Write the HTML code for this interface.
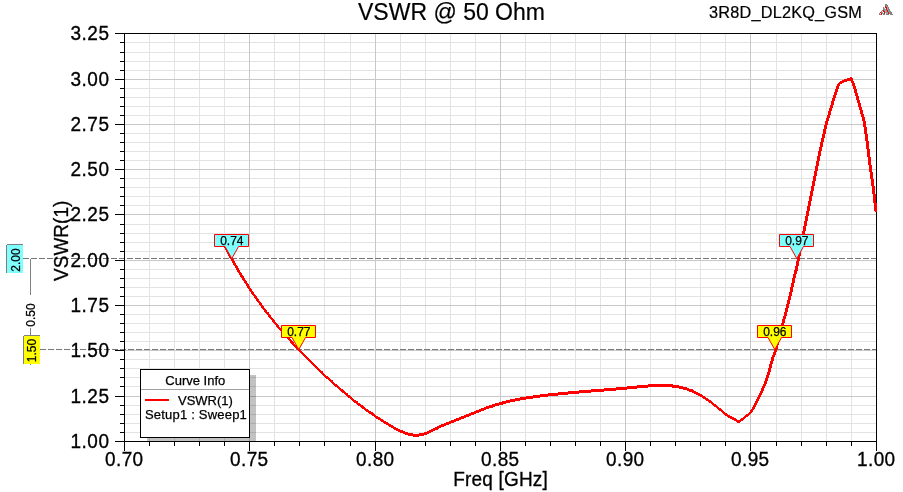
<!DOCTYPE html>
<html><head><meta charset="utf-8"><title>VSWR @ 50 Ohm</title>
<style>html,body{margin:0;padding:0;background:#fff;overflow:hidden}body{width:903px;height:492px;position:relative}</style>
</head><body>
<svg width="903" height="492" viewBox="0 0 903 492" style="position:absolute;left:0;top:0" font-family='"Liberation Sans", Arial, sans-serif' fill="#000"><rect x="0" y="0" width="903" height="492" fill="#ffffff"/><path d="M125 42.5H876M125 52.5H876M125 61.5H876M125 70.5H876M125 88.5H876M125 97.5H876M125 106.5H876M125 115.5H876M125 133.5H876M125 142.5H876M125 151.5H876M125 160.5H876M125 178.5H876M125 187.5H876M125 196.5H876M125 205.5H876M125 224.5H876M125 233.5H876M125 242.5H876M125 251.5H876M125 269.5H876M125 278.5H876M125 287.5H876M125 296.5H876M125 314.5H876M125 323.5H876M125 332.5H876M125 341.5H876M125 359.5H876M125 368.5H876M125 377.5H876M125 386.5H876M125 405.5H876M125 414.5H876M125 423.5H876M125 432.5H876M149.5 34V441M174.5 34V441M199.5 34V441M224.5 34V441M274.5 34V441M299.5 34V441M324.5 34V441M350.5 34V441M400.5 34V441M425.5 34V441M450.5 34V441M475.5 34V441M525.5 34V441M550.5 34V441M575.5 34V441M600.5 34V441M650.5 34V441M675.5 34V441M700.5 34V441M725.5 34V441M776.5 34V441M801.5 34V441M826.5 34V441M851.5 34V441" stroke="#e3e3e3" stroke-width="1" fill="none" shape-rendering="crispEdges"/><path d="M125 79.5H876M125 124.5H876M125 169.5H876M125 214.5H876M125 260.5H876M125 305.5H876M125 350.5H876M125 396.5H876M249.5 34V441M375.5 34V441M500.5 34V441M625.5 34V441M750.5 34V441" stroke="#c8c8c8" stroke-width="1" fill="none" shape-rendering="crispEdges"/><path d="M23 258.5H876M40 349.5H876" stroke="#767676" stroke-width="1" stroke-dasharray="6 2" fill="none" shape-rendering="crispEdges"/><path d="M115 33.5H876.5M876.5 33V441M124.5 33V451M115 441.5H877M115 79.5H124M115 124.5H124M115 169.5H124M115 214.5H124M115 260.5H124M115 305.5H124M115 350.5H124M115 396.5H124M120 42.5H124M120 52.5H124M120 61.5H124M120 70.5H124M120 88.5H124M120 97.5H124M120 106.5H124M120 115.5H124M120 133.5H124M120 142.5H124M120 151.5H124M120 160.5H124M120 178.5H124M120 187.5H124M120 196.5H124M120 205.5H124M120 224.5H124M120 233.5H124M120 242.5H124M120 251.5H124M120 269.5H124M120 278.5H124M120 287.5H124M120 296.5H124M120 314.5H124M120 323.5H124M120 332.5H124M120 341.5H124M120 359.5H124M120 368.5H124M120 377.5H124M120 386.5H124M120 405.5H124M120 414.5H124M120 423.5H124M120 432.5H124M249.5 442V451M375.5 442V451M500.5 442V451M625.5 442V451M750.5 442V451M876.5 442V451M149.5 442V446M174.5 442V446M199.5 442V446M224.5 442V446M274.5 442V446M299.5 442V446M324.5 442V446M350.5 442V446M400.5 442V446M425.5 442V446M450.5 442V446M475.5 442V446M525.5 442V446M550.5 442V446M575.5 442V446M600.5 442V446M650.5 442V446M675.5 442V446M700.5 442V446M725.5 442V446M776.5 442V446M801.5 442V446M826.5 442V446M851.5 442V446" stroke="#000" stroke-width="1" fill="none" shape-rendering="crispEdges"/><text transform="translate(109,40) scale(1,1.06)" font-size="19" text-anchor="end" textLength="38.6" lengthAdjust="spacing" stroke="#000" stroke-width="0.3">3.25</text><text transform="translate(109,86) scale(1,1.06)" font-size="19" text-anchor="end" textLength="38.6" lengthAdjust="spacing" stroke="#000" stroke-width="0.3">3.00</text><text transform="translate(109,131) scale(1,1.06)" font-size="19" text-anchor="end" textLength="38.6" lengthAdjust="spacing" stroke="#000" stroke-width="0.3">2.75</text><text transform="translate(109,176) scale(1,1.06)" font-size="19" text-anchor="end" textLength="38.6" lengthAdjust="spacing" stroke="#000" stroke-width="0.3">2.50</text><text transform="translate(109,221) scale(1,1.06)" font-size="19" text-anchor="end" textLength="38.6" lengthAdjust="spacing" stroke="#000" stroke-width="0.3">2.25</text><text transform="translate(109,267) scale(1,1.06)" font-size="19" text-anchor="end" textLength="38.6" lengthAdjust="spacing" stroke="#000" stroke-width="0.3">2.00</text><text transform="translate(109,312) scale(1,1.06)" font-size="19" text-anchor="end" textLength="38.6" lengthAdjust="spacing" stroke="#000" stroke-width="0.3">1.75</text><text transform="translate(109,357) scale(1,1.06)" font-size="19" text-anchor="end" textLength="38.6" lengthAdjust="spacing" stroke="#000" stroke-width="0.3">1.50</text><text transform="translate(109,403) scale(1,1.06)" font-size="19" text-anchor="end" textLength="38.6" lengthAdjust="spacing" stroke="#000" stroke-width="0.3">1.25</text><text transform="translate(109,448) scale(1,1.06)" font-size="19" text-anchor="end" textLength="38.6" lengthAdjust="spacing" stroke="#000" stroke-width="0.3">1.00</text><text transform="translate(124.1,466) scale(1,1.06)" font-size="19" text-anchor="middle" textLength="38.0" lengthAdjust="spacing" stroke="#000" stroke-width="0.3">0.70</text><text transform="translate(249.1,466) scale(1,1.06)" font-size="19" text-anchor="middle" textLength="38.0" lengthAdjust="spacing" stroke="#000" stroke-width="0.3">0.75</text><text transform="translate(375.1,466) scale(1,1.06)" font-size="19" text-anchor="middle" textLength="38.0" lengthAdjust="spacing" stroke="#000" stroke-width="0.3">0.80</text><text transform="translate(500.1,466) scale(1,1.06)" font-size="19" text-anchor="middle" textLength="38.0" lengthAdjust="spacing" stroke="#000" stroke-width="0.3">0.85</text><text transform="translate(625.1,466) scale(1,1.06)" font-size="19" text-anchor="middle" textLength="38.0" lengthAdjust="spacing" stroke="#000" stroke-width="0.3">0.90</text><text transform="translate(750.1,466) scale(1,1.06)" font-size="19" text-anchor="middle" textLength="38.0" lengthAdjust="spacing" stroke="#000" stroke-width="0.3">0.95</text><text transform="translate(876.1,466) scale(1,1.06)" font-size="19" text-anchor="middle" textLength="38.0" lengthAdjust="spacing" stroke="#000" stroke-width="0.3">1.00</text><text transform="translate(500.5,486) scale(1,1.06)" font-size="19" text-anchor="middle" textLength="94.6" lengthAdjust="spacing" stroke="#000" stroke-width="0.3">Freq [GHz]</text><text transform="translate(67.8,240.8) rotate(-90) scale(1,1.06)" font-size="19" text-anchor="middle" stroke="#000" stroke-width="0.3">VSWR(1)</text><text transform="translate(358,20)" font-size="23" stroke="#000" stroke-width="0.2">VSWR @ 50 Ohm</text><text transform="translate(709,18)" font-size="16.3" textLength="152.8" lengthAdjust="spacing" stroke="#000" stroke-width="0.2">3R8D_DL2KQ_GSM</text><g fill="#808484" shape-rendering="crispEdges"><rect x="885" y="4" width="1" height="1"/><rect x="886" y="4" width="1" height="1"/><rect x="885" y="5" width="1" height="1"/><rect x="886" y="5" width="1" height="1"/><rect x="887" y="5" width="1" height="1"/><rect x="887" y="6" width="1" height="1"/><rect x="883" y="7" width="1" height="1"/><rect x="888" y="7" width="1" height="1"/><rect x="883" y="8" width="1" height="1"/><rect x="888" y="8" width="1" height="1"/><rect x="883" y="9" width="1" height="1"/><rect x="888" y="9" width="1" height="1"/><rect x="889" y="9" width="1" height="1"/><rect x="882" y="10" width="1" height="1"/><rect x="886" y="10" width="1" height="1"/><rect x="889" y="10" width="1" height="1"/><rect x="881" y="11" width="1" height="1"/><rect x="889" y="11" width="1" height="1"/><rect x="890" y="11" width="1" height="1"/><rect x="881" y="12" width="1" height="1"/><rect x="890" y="12" width="1" height="1"/><rect x="891" y="12" width="1" height="1"/><rect x="879" y="13" width="1" height="1"/><rect x="889" y="13" width="1" height="1"/><rect x="890" y="13" width="1" height="1"/><rect x="891" y="13" width="1" height="1"/><rect x="879" y="14" width="1" height="1"/><rect x="880" y="14" width="1" height="1"/><rect x="883" y="14" width="1" height="1"/><rect x="884" y="14" width="1" height="1"/><rect x="886" y="14" width="1" height="1"/><rect x="887" y="14" width="1" height="1"/><rect x="888" y="14" width="1" height="1"/><rect x="890" y="14" width="1" height="1"/><rect x="891" y="14" width="1" height="1"/><rect x="892" y="14" width="1" height="1"/></g><g fill="#8aa6a6" shape-rendering="crispEdges"><rect x="886" y="6" width="1" height="1"/><rect x="887" y="7" width="1" height="1"/><rect x="884" y="8" width="1" height="1"/><rect x="887" y="8" width="1" height="1"/><rect x="884" y="9" width="1" height="1"/><rect x="885" y="9" width="1" height="1"/><rect x="887" y="9" width="1" height="1"/><rect x="884" y="10" width="1" height="1"/><rect x="885" y="10" width="1" height="1"/><rect x="888" y="10" width="1" height="1"/><rect x="885" y="11" width="1" height="1"/><rect x="886" y="11" width="1" height="1"/><rect x="888" y="11" width="1" height="1"/><rect x="882" y="12" width="1" height="1"/><rect x="885" y="12" width="1" height="1"/><rect x="886" y="12" width="1" height="1"/><rect x="887" y="12" width="1" height="1"/><rect x="889" y="12" width="1" height="1"/><rect x="882" y="13" width="1" height="1"/><rect x="883" y="13" width="1" height="1"/><rect x="886" y="13" width="1" height="1"/><rect x="887" y="13" width="1" height="1"/></g><g fill="#ff0000" shape-rendering="crispEdges"><rect x="885" y="6" width="1" height="1"/><rect x="885" y="7" width="1" height="1"/><rect x="886" y="7" width="1" height="1"/><rect x="886" y="8" width="1" height="1"/><rect x="886" y="9" width="1" height="1"/><rect x="883" y="10" width="1" height="1"/><rect x="887" y="10" width="1" height="1"/><rect x="883" y="11" width="1" height="1"/><rect x="884" y="11" width="1" height="1"/><rect x="887" y="11" width="1" height="1"/><rect x="880" y="12" width="1" height="1"/><rect x="884" y="12" width="1" height="1"/><rect x="888" y="12" width="1" height="1"/><rect x="881" y="13" width="1" height="1"/><rect x="884" y="13" width="1" height="1"/><rect x="888" y="13" width="1" height="1"/><rect x="881" y="14" width="1" height="1"/></g><rect x="7" y="245" width="16" height="28" fill="#80ffff"/><path d="M6.5 245V273M7 244.5H23" stroke="#808080" stroke-width="1" fill="none" shape-rendering="crispEdges"/><text transform="translate(19.5,260) rotate(-90)" font-size="12" text-anchor="middle" stroke="#000" stroke-width="0.25">2.00</text><rect x="24" y="336" width="16" height="28" fill="#ffff00"/><path d="M23.5 336V364M24 335.5H40" stroke="#808080" stroke-width="1" fill="none" shape-rendering="crispEdges"/><text transform="translate(35.5,350.5) rotate(-90)" font-size="12" text-anchor="middle" stroke="#000" stroke-width="0.25">1.50</text><path d="M30.5 259V295M30.5 328V335M30.5 364V365" stroke="#808080" stroke-width="1" fill="none" shape-rendering="crispEdges"/><text transform="translate(35,315) rotate(-90)" font-size="12" text-anchor="middle" stroke="#000" stroke-width="0.25">0.50</text><path d="M850 77h2v1h-2zM847 78h6v1h-6zM844 79h9v1h-9zM842 80h11v1h-11zM840 81h7v1h-7zM851 81h3v1h-3zM839 82h5v1h-5zM851 82h3v1h-3zM838 83h4v1h-4zM852 83h3v1h-3zM837 84h3v1h-3zM852 84h3v1h-3zM837 85h3v1h-3zM852 85h3v1h-3zM836 86h3v1h-3zM853 86h3v1h-3zM836 87h3v1h-3zM853 87h3v1h-3zM836 88h3v1h-3zM853 88h3v1h-3zM835 89h3v1h-3zM854 89h3v1h-3zM835 90h3v1h-3zM854 90h3v1h-3zM835 91h3v1h-3zM854 91h3v1h-3zM834 92h3v1h-3zM854 92h3v1h-3zM834 93h3v1h-3zM855 93h3v1h-3zM834 94h3v1h-3zM855 94h3v1h-3zM833 95h3v1h-3zM855 95h3v1h-3zM833 96h3v1h-3zM856 96h3v1h-3zM833 97h3v1h-3zM856 97h3v1h-3zM832 98h3v1h-3zM856 98h3v1h-3zM832 99h3v1h-3zM856 99h3v1h-3zM832 100h3v1h-3zM857 100h3v1h-3zM831 101h3v1h-3zM857 101h3v1h-3zM831 102h3v1h-3zM857 102h3v1h-3zM831 103h3v1h-3zM858 103h3v1h-3zM831 104h3v1h-3zM858 104h3v1h-3zM830 105h3v1h-3zM858 105h3v1h-3zM830 106h3v1h-3zM858 106h3v1h-3zM830 107h3v1h-3zM859 107h3v1h-3zM829 108h3v1h-3zM859 108h3v1h-3zM829 109h3v1h-3zM859 109h3v1h-3zM829 110h3v1h-3zM860 110h3v1h-3zM828 111h3v1h-3zM860 111h3v1h-3zM828 112h3v1h-3zM860 112h3v1h-3zM828 113h3v1h-3zM860 113h3v1h-3zM828 114h3v1h-3zM861 114h3v1h-3zM827 115h3v1h-3zM861 115h3v1h-3zM827 116h3v1h-3zM861 116h3v1h-3zM827 117h3v1h-3zM862 117h3v1h-3zM826 118h3v1h-3zM862 118h3v1h-3zM826 119h3v1h-3zM862 119h3v1h-3zM826 120h3v1h-3zM862 120h3v1h-3zM825 121h3v1h-3zM863 121h3v1h-3zM825 122h3v1h-3zM863 122h3v1h-3zM825 123h3v1h-3zM863 123h3v1h-3zM825 124h3v1h-3zM863 124h3v1h-3zM824 125h3v1h-3zM863 125h3v1h-3zM824 126h3v1h-3zM863 126h3v1h-3zM824 127h3v1h-3zM864 127h3v1h-3zM824 128h3v1h-3zM864 128h3v1h-3zM823 129h3v1h-3zM864 129h3v1h-3zM823 130h3v1h-3zM864 130h3v1h-3zM823 131h3v1h-3zM864 131h3v1h-3zM823 132h3v1h-3zM864 132h3v1h-3zM823 133h3v1h-3zM864 133h3v1h-3zM822 134h3v1h-3zM865 134h3v1h-3zM822 135h3v1h-3zM865 135h3v1h-3zM822 136h3v1h-3zM865 136h3v1h-3zM822 137h3v1h-3zM865 137h3v1h-3zM821 138h3v1h-3zM865 138h3v1h-3zM821 139h3v1h-3zM865 139h3v1h-3zM821 140h3v1h-3zM865 140h3v1h-3zM821 141h3v1h-3zM866 141h3v1h-3zM820 142h3v1h-3zM866 142h3v1h-3zM820 143h3v1h-3zM866 143h3v1h-3zM820 144h3v1h-3zM866 144h3v1h-3zM820 145h3v1h-3zM866 145h3v1h-3zM820 146h3v1h-3zM866 146h3v1h-3zM819 147h3v1h-3zM866 147h3v1h-3zM819 148h3v1h-3zM866 148h3v1h-3zM819 149h3v1h-3zM867 149h3v1h-3zM819 150h3v1h-3zM867 150h3v1h-3zM818 151h3v1h-3zM867 151h3v1h-3zM818 152h3v1h-3zM867 152h3v1h-3zM818 153h3v1h-3zM867 153h3v1h-3zM818 154h3v1h-3zM867 154h3v1h-3zM818 155h3v1h-3zM867 155h3v1h-3zM817 156h3v1h-3zM867 156h3v1h-3zM817 157h3v1h-3zM868 157h3v1h-3zM817 158h3v1h-3zM868 158h3v1h-3zM817 159h3v1h-3zM868 159h3v1h-3zM817 160h3v1h-3zM868 160h3v1h-3zM816 161h3v1h-3zM868 161h3v1h-3zM816 162h3v1h-3zM868 162h3v1h-3zM816 163h3v1h-3zM868 163h3v1h-3zM816 164h3v1h-3zM868 164h3v1h-3zM816 165h3v1h-3zM869 165h3v1h-3zM815 166h3v1h-3zM869 166h3v1h-3zM815 167h3v1h-3zM869 167h3v1h-3zM815 168h3v1h-3zM869 168h3v1h-3zM815 169h3v1h-3zM869 169h3v1h-3zM815 170h3v1h-3zM869 170h3v1h-3zM814 171h3v1h-3zM869 171h3v1h-3zM814 172h3v1h-3zM870 172h3v1h-3zM814 173h3v1h-3zM870 173h3v1h-3zM814 174h3v1h-3zM870 174h3v1h-3zM814 175h3v1h-3zM870 175h3v1h-3zM813 176h3v1h-3zM870 176h3v1h-3zM813 177h3v1h-3zM870 177h3v1h-3zM813 178h3v1h-3zM870 178h3v1h-3zM813 179h3v1h-3zM871 179h3v1h-3zM813 180h3v1h-3zM871 180h3v1h-3zM812 181h3v1h-3zM871 181h3v1h-3zM812 182h3v1h-3zM871 182h3v1h-3zM812 183h3v1h-3zM871 183h3v1h-3zM812 184h3v1h-3zM871 184h3v1h-3zM812 185h3v1h-3zM871 185h3v1h-3zM811 186h3v1h-3zM872 186h3v1h-3zM811 187h3v1h-3zM872 187h3v1h-3zM811 188h3v1h-3zM872 188h3v1h-3zM811 189h3v1h-3zM872 189h3v1h-3zM811 190h3v1h-3zM872 190h3v1h-3zM810 191h3v1h-3zM872 191h3v1h-3zM810 192h3v1h-3zM872 192h3v1h-3zM810 193h3v1h-3zM872 193h3v1h-3zM810 194h3v1h-3zM873 194h3v1h-3zM810 195h3v1h-3zM873 195h3v1h-3zM809 196h3v1h-3zM873 196h3v1h-3zM809 197h3v1h-3zM873 197h3v1h-3zM809 198h3v1h-3zM873 198h3v1h-3zM809 199h3v1h-3zM873 199h3v1h-3zM809 200h3v1h-3zM873 200h3v1h-3zM808 201h3v1h-3zM873 201h3v1h-3zM808 202h3v1h-3zM873 202h3v1h-3zM808 203h3v1h-3zM874 203h3v1h-3zM808 204h3v1h-3zM874 204h3v1h-3zM808 205h3v1h-3zM874 205h3v1h-3zM807 206h3v1h-3zM874 206h3v1h-3zM807 207h3v1h-3zM874 207h3v1h-3zM807 208h3v1h-3zM874 208h3v1h-3zM807 209h3v1h-3zM874 209h3v1h-3zM807 210h3v1h-3zM874 210h3v1h-3zM806 211h3v1h-3zM875 211h2v1h-2zM806 212h3v1h-3zM806 213h3v1h-3zM806 214h3v1h-3zM806 215h3v1h-3zM805 216h3v1h-3zM805 217h3v1h-3zM805 218h3v1h-3zM805 219h3v1h-3zM805 220h3v1h-3zM804 221h3v1h-3zM804 222h3v1h-3zM804 223h3v1h-3zM804 224h3v1h-3zM804 225h3v1h-3zM803 226h3v1h-3zM803 227h3v1h-3zM803 228h3v1h-3zM803 229h3v1h-3zM803 230h3v1h-3zM802 231h3v1h-3zM802 232h3v1h-3zM802 233h3v1h-3zM802 234h3v1h-3zM802 235h3v1h-3zM801 236h3v1h-3zM801 237h3v1h-3zM801 238h3v1h-3zM801 239h3v1h-3zM801 240h3v1h-3zM800 241h3v1h-3zM800 242h3v1h-3zM800 243h3v1h-3zM800 244h3v1h-3zM223 245h3v1h-3zM800 245h3v1h-3zM224 246h3v1h-3zM799 246h3v1h-3zM224 247h3v1h-3zM799 247h3v1h-3zM225 248h3v1h-3zM799 248h3v1h-3zM225 249h3v1h-3zM799 249h3v1h-3zM226 250h3v1h-3zM799 250h3v1h-3zM226 251h3v1h-3zM798 251h3v1h-3zM227 252h3v1h-3zM798 252h3v1h-3zM227 253h3v1h-3zM798 253h3v1h-3zM228 254h3v1h-3zM798 254h3v1h-3zM228 255h3v1h-3zM798 255h3v1h-3zM229 256h3v1h-3zM797 256h3v1h-3zM229 257h3v1h-3zM797 257h3v1h-3zM230 258h3v1h-3zM797 258h3v1h-3zM231 259h3v1h-3zM797 259h3v1h-3zM231 260h3v1h-3zM797 260h3v1h-3zM232 261h3v1h-3zM796 261h3v1h-3zM232 262h3v1h-3zM796 262h3v1h-3zM233 263h3v1h-3zM796 263h3v1h-3zM233 264h3v1h-3zM796 264h3v1h-3zM234 265h3v1h-3zM796 265h3v1h-3zM235 266h3v1h-3zM795 266h3v1h-3zM235 267h3v1h-3zM795 267h3v1h-3zM236 268h3v1h-3zM795 268h3v1h-3zM236 269h3v1h-3zM795 269h3v1h-3zM237 270h3v1h-3zM794 270h4v1h-4zM237 271h3v1h-3zM794 271h3v1h-3zM238 272h3v1h-3zM794 272h3v1h-3zM239 273h3v1h-3zM794 273h3v1h-3zM239 274h3v1h-3zM793 274h3v1h-3zM240 275h3v1h-3zM793 275h3v1h-3zM240 276h4v1h-4zM793 276h3v1h-3zM241 277h3v1h-3zM793 277h3v1h-3zM242 278h3v1h-3zM792 278h3v1h-3zM242 279h3v1h-3zM792 279h3v1h-3zM243 280h3v1h-3zM792 280h3v1h-3zM244 281h3v1h-3zM792 281h3v1h-3zM244 282h3v1h-3zM792 282h3v1h-3zM245 283h3v1h-3zM791 283h3v1h-3zM246 284h3v1h-3zM791 284h3v1h-3zM246 285h3v1h-3zM791 285h3v1h-3zM247 286h3v1h-3zM791 286h3v1h-3zM247 287h3v1h-3zM790 287h3v1h-3zM248 288h3v1h-3zM790 288h3v1h-3zM249 289h3v1h-3zM790 289h3v1h-3zM249 290h3v1h-3zM790 290h3v1h-3zM250 291h3v1h-3zM790 291h3v1h-3zM251 292h3v1h-3zM789 292h3v1h-3zM251 293h3v1h-3zM789 293h3v1h-3zM252 294h3v1h-3zM789 294h3v1h-3zM253 295h3v1h-3zM789 295h3v1h-3zM254 296h3v1h-3zM788 296h3v1h-3zM254 297h3v1h-3zM788 297h3v1h-3zM255 298h3v1h-3zM788 298h3v1h-3zM256 299h3v1h-3zM788 299h3v1h-3zM256 300h3v1h-3zM787 300h3v1h-3zM257 301h3v1h-3zM787 301h3v1h-3zM258 302h3v1h-3zM787 302h3v1h-3zM259 303h3v1h-3zM787 303h3v1h-3zM259 304h3v1h-3zM786 304h3v1h-3zM260 305h3v1h-3zM786 305h3v1h-3zM261 306h3v1h-3zM786 306h3v1h-3zM261 307h3v1h-3zM786 307h3v1h-3zM262 308h3v1h-3zM785 308h3v1h-3zM263 309h3v1h-3zM785 309h3v1h-3zM264 310h3v1h-3zM785 310h3v1h-3zM264 311h3v1h-3zM785 311h3v1h-3zM265 312h4v1h-4zM784 312h3v1h-3zM266 313h3v1h-3zM784 313h3v1h-3zM267 314h3v1h-3zM784 314h3v1h-3zM268 315h3v1h-3zM784 315h3v1h-3zM268 316h3v1h-3zM783 316h3v1h-3zM269 317h3v1h-3zM783 317h3v1h-3zM270 318h3v1h-3zM783 318h3v1h-3zM271 319h3v1h-3zM782 319h3v1h-3zM272 320h3v1h-3zM782 320h3v1h-3zM272 321h3v1h-3zM782 321h3v1h-3zM273 322h3v1h-3zM782 322h3v1h-3zM274 323h3v1h-3zM781 323h3v1h-3zM275 324h3v1h-3zM781 324h3v1h-3zM276 325h3v1h-3zM781 325h3v1h-3zM276 326h3v1h-3zM781 326h3v1h-3zM277 327h3v1h-3zM780 327h3v1h-3zM278 328h3v1h-3zM780 328h3v1h-3zM279 329h3v1h-3zM780 329h3v1h-3zM280 330h3v1h-3zM779 330h3v1h-3zM281 331h3v1h-3zM779 331h3v1h-3zM282 332h3v1h-3zM779 332h3v1h-3zM282 333h3v1h-3zM779 333h3v1h-3zM283 334h3v1h-3zM778 334h3v1h-3zM284 335h3v1h-3zM778 335h3v1h-3zM285 336h3v1h-3zM778 336h3v1h-3zM286 337h3v1h-3zM778 337h3v1h-3zM287 338h3v1h-3zM777 338h3v1h-3zM288 339h3v1h-3zM777 339h3v1h-3zM289 340h3v1h-3zM777 340h3v1h-3zM290 341h3v1h-3zM776 341h3v1h-3zM290 342h4v1h-4zM776 342h3v1h-3zM291 343h3v1h-3zM776 343h3v1h-3zM292 344h3v1h-3zM776 344h3v1h-3zM293 345h3v1h-3zM775 345h3v1h-3zM294 346h3v1h-3zM775 346h3v1h-3zM295 347h4v1h-4zM775 347h3v1h-3zM296 348h3v1h-3zM775 348h3v1h-3zM297 349h3v1h-3zM774 349h3v1h-3zM298 350h3v1h-3zM774 350h3v1h-3zM299 351h3v1h-3zM774 351h3v1h-3zM300 352h3v1h-3zM773 352h3v1h-3zM301 353h3v1h-3zM773 353h3v1h-3zM302 354h3v1h-3zM773 354h3v1h-3zM303 355h3v1h-3zM772 355h3v1h-3zM304 356h3v1h-3zM772 356h3v1h-3zM305 357h3v1h-3zM771 357h3v1h-3zM306 358h3v1h-3zM771 358h3v1h-3zM307 359h3v1h-3zM771 359h3v1h-3zM308 360h3v1h-3zM771 360h3v1h-3zM309 361h3v1h-3zM770 361h3v1h-3zM310 362h3v1h-3zM770 362h3v1h-3zM311 363h3v1h-3zM770 363h3v1h-3zM312 364h3v1h-3zM769 364h3v1h-3zM313 365h3v1h-3zM769 365h3v1h-3zM314 366h3v1h-3zM769 366h3v1h-3zM315 367h3v1h-3zM769 367h3v1h-3zM316 368h3v1h-3zM768 368h3v1h-3zM317 369h3v1h-3zM768 369h3v1h-3zM318 370h3v1h-3zM768 370h3v1h-3zM319 371h4v1h-4zM768 371h3v1h-3zM320 372h3v1h-3zM767 372h3v1h-3zM321 373h3v1h-3zM767 373h3v1h-3zM322 374h3v1h-3zM767 374h3v1h-3zM323 375h3v1h-3zM766 375h3v1h-3zM324 376h4v1h-4zM766 376h3v1h-3zM325 377h4v1h-4zM766 377h3v1h-3zM326 378h4v1h-4zM765 378h3v1h-3zM328 379h3v1h-3zM765 379h3v1h-3zM329 380h4v1h-4zM765 380h3v1h-3zM330 381h3v1h-3zM764 381h3v1h-3zM331 382h3v1h-3zM764 382h3v1h-3zM332 383h3v1h-3zM764 383h3v1h-3zM333 384h4v1h-4zM648 384h25v1h-25zM763 384h3v1h-3zM334 385h4v1h-4zM637 385h42v1h-42zM763 385h3v1h-3zM335 386h4v1h-4zM627 386h56v1h-56zM762 386h3v1h-3zM337 387h3v1h-3zM616 387h32v1h-32zM672 387h15v1h-15zM762 387h3v1h-3zM338 388h3v1h-3zM604 388h33v1h-33zM679 388h10v1h-10zM761 388h3v1h-3zM339 389h4v1h-4zM591 389h36v1h-36zM683 389h10v1h-10zM761 389h3v1h-3zM340 390h4v1h-4zM579 390h37v1h-37zM687 390h7v1h-7zM761 390h3v1h-3zM341 391h4v1h-4zM568 391h36v1h-36zM689 391h7v1h-7zM760 391h3v1h-3zM342 392h4v1h-4zM558 392h33v1h-33zM692 392h6v1h-6zM760 392h3v1h-3zM344 393h4v1h-4zM548 393h31v1h-31zM694 393h6v1h-6zM759 393h3v1h-3zM345 394h3v1h-3zM540 394h28v1h-28zM696 394h6v1h-6zM759 394h3v1h-3zM346 395h4v1h-4zM533 395h25v1h-25zM698 395h5v1h-5zM758 395h3v1h-3zM347 396h4v1h-4zM526 396h22v1h-22zM700 396h5v1h-5zM758 396h3v1h-3zM348 397h4v1h-4zM520 397h20v1h-20zM702 397h4v1h-4zM757 397h3v1h-3zM350 398h3v1h-3zM515 398h18v1h-18zM703 398h5v1h-5zM757 398h3v1h-3zM351 399h3v1h-3zM510 399h16v1h-16zM705 399h4v1h-4zM756 399h3v1h-3zM352 400h4v1h-4zM506 400h14v1h-14zM706 400h5v1h-5zM756 400h3v1h-3zM353 401h5v1h-5zM502 401h13v1h-13zM708 401h4v1h-4zM755 401h3v1h-3zM354 402h4v1h-4zM499 402h11v1h-11zM709 402h4v1h-4zM755 402h3v1h-3zM356 403h4v1h-4zM495 403h11v1h-11zM711 403h3v1h-3zM754 403h3v1h-3zM357 404h4v1h-4zM492 404h11v1h-11zM712 404h4v1h-4zM754 404h3v1h-3zM358 405h5v1h-5zM489 405h10v1h-10zM713 405h4v1h-4zM753 405h3v1h-3zM360 406h4v1h-4zM486 406h9v1h-9zM714 406h4v1h-4zM753 406h3v1h-3zM361 407h4v1h-4zM484 407h9v1h-9zM716 407h3v1h-3zM752 407h3v1h-3zM362 408h4v1h-4zM481 408h8v1h-8zM717 408h4v1h-4zM752 408h3v1h-3zM364 409h4v1h-4zM479 409h7v1h-7zM718 409h4v1h-4zM751 409h3v1h-3zM365 410h4v1h-4zM476 410h8v1h-8zM719 410h4v1h-4zM750 410h3v1h-3zM366 411h5v1h-5zM474 411h7v1h-7zM721 411h3v1h-3zM750 411h3v1h-3zM368 412h5v1h-5zM471 412h8v1h-8zM722 412h3v1h-3zM749 412h3v1h-3zM369 413h5v1h-5zM469 413h7v1h-7zM723 413h4v1h-4zM748 413h3v1h-3zM371 414h4v1h-4zM466 414h8v1h-8zM724 414h4v1h-4zM746 414h4v1h-4zM372 415h4v1h-4zM464 415h7v1h-7zM725 415h5v1h-5zM745 415h4v1h-4zM374 416h4v1h-4zM461 416h8v1h-8zM727 416h5v1h-5zM744 416h4v1h-4zM375 417h5v1h-5zM459 417h7v1h-7zM728 417h6v1h-6zM743 417h3v1h-3zM376 418h5v1h-5zM456 418h8v1h-8zM730 418h6v1h-6zM741 418h4v1h-4zM378 419h5v1h-5zM454 419h7v1h-7zM732 419h5v1h-5zM740 419h4v1h-4zM380 420h4v1h-4zM451 420h8v1h-8zM734 420h9v1h-9zM381 421h5v1h-5zM449 421h7v1h-7zM736 421h5v1h-5zM383 422h5v1h-5zM446 422h8v1h-8zM737 422h3v1h-3zM384 423h5v1h-5zM444 423h7v1h-7zM386 424h5v1h-5zM441 424h8v1h-8zM388 425h5v1h-5zM439 425h7v1h-7zM389 426h5v1h-5zM437 426h7v1h-7zM391 427h5v1h-5zM435 427h6v1h-6zM393 428h5v1h-5zM433 428h6v1h-6zM394 429h6v1h-6zM431 429h7v1h-7zM396 430h7v1h-7zM429 430h6v1h-6zM398 431h7v1h-7zM427 431h6v1h-6zM400 432h8v1h-8zM424 432h7v1h-7zM403 433h10v1h-10zM419 433h10v1h-10zM405 434h22v1h-22zM408 435h16v1h-16zM413 436h6v1h-6z" fill="#ff0000" shape-rendering="crispEdges"/><path d="M214.5 234.5H248.5V246.5H238.5L231.8 258.6L225 246.5H214.5Z" fill="#80ffff" stroke="#ff0000" stroke-width="1"/><text transform="translate(231.8,245)" font-size="12" text-anchor="middle" stroke="#000" stroke-width="0.25">0.74</text><path d="M281.5 325.5H315.5V337.5H305.5L298.8 349.6L292 337.5H281.5Z" fill="#ffff00" stroke="#ff0000" stroke-width="1"/><text transform="translate(298.8,336)" font-size="12" text-anchor="middle" stroke="#000" stroke-width="0.25">0.77</text><path d="M757.5 325.5H791.5V337.5H781.5L774.8 349.6L768 337.5H757.5Z" fill="#ffff00" stroke="#ff0000" stroke-width="1"/><text transform="translate(774.8,336)" font-size="12" text-anchor="middle" stroke="#000" stroke-width="0.25">0.96</text><path d="M779.5 234.5H813.5V246.5H803.5L796.8 258.6L790 246.5H779.5Z" fill="#80ffff" stroke="#ff0000" stroke-width="1"/><text transform="translate(796.8,245)" font-size="12" text-anchor="middle" stroke="#000" stroke-width="0.25">0.97</text><rect x="147" y="375" width="109" height="66" fill="#000" fill-opacity="0.24"/><rect x="140.5" y="369.5" width="109" height="68" fill="#fff" stroke="#000" stroke-width="1" shape-rendering="crispEdges"/><path d="M141 389.5H249" stroke="#a0a0a0" stroke-width="1" shape-rendering="crispEdges"/><text transform="translate(195.3,385)" font-size="13" text-anchor="middle" stroke="#000" stroke-width="0.25">Curve Info</text><path d="M145 400H169" stroke="#ff0000" stroke-width="2" shape-rendering="crispEdges"/><text transform="translate(178,404.5)" font-size="13" stroke="#000" stroke-width="0.25">VSWR(1)</text><text transform="translate(145,419)" font-size="13" textLength="101.8" lengthAdjust="spacing" stroke="#000" stroke-width="0.25">Setup1 : Sweep1</text></svg>
</body></html>
